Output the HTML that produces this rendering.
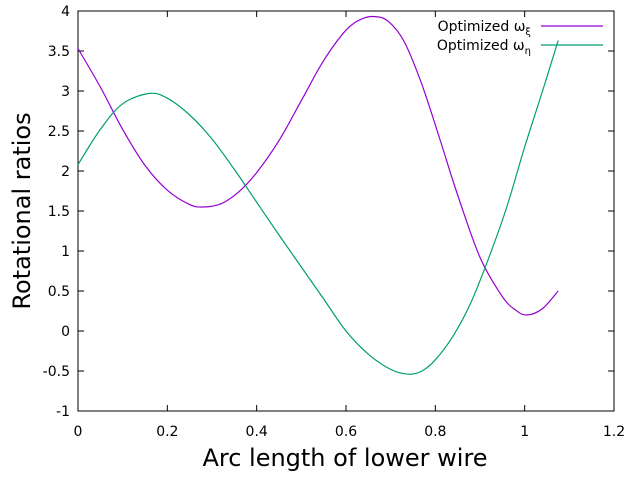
<!DOCTYPE html>
<html><head><meta charset="utf-8"><style>
body{margin:0;background:#fff}
svg text{font-family:"DejaVu Sans","Liberation Sans",sans-serif;fill:#000}
</style></head><body>
<svg id="chart" width="636" height="474">
<rect x="78" y="11" width="536" height="400" fill="none" stroke="#000" stroke-width="1"/>
<g id="ticks"></g>
<text x="345" y="466" font-size="24" text-anchor="middle">Arc length of lower wire</text>
<text transform="translate(30,211) rotate(-90)" font-size="24" text-anchor="middle">Rotational ratios</text>
<g id="series"></g>
<g>
<text x="531" y="31" font-size="14" text-anchor="end">Optimized ω<tspan font-size="10" dy="4">ξ</tspan></text>
<line x1="541" y1="26" x2="603" y2="26" stroke="#9400d3" stroke-width="1.2"/>
<text x="531" y="50" font-size="14" text-anchor="end">Optimized ω<tspan font-size="10" dy="4">η</tspan></text>
<line x1="541" y1="45" x2="603" y2="45" stroke="#009e73" stroke-width="1.2"/>
</g>
</svg>
<script>
const xTicks=[0,0.2,0.4,0.6,0.8,1,1.2];
const yTicks=[-1,-0.5,0,0.5,1,1.5,2,2.5,3,3.5,4];
const xiX=[0,0.05,0.1,0.15,0.2,0.25,0.28,0.32,0.36,0.4,0.45,0.5,0.55,0.6,0.635,0.665,0.695,0.73,0.77,0.81,0.85,0.9,0.95,0.98,1.005,1.04,1.075];
const xiY=[3.53,3.05,2.52,2.07,1.76,1.58,1.55,1.59,1.74,1.98,2.38,2.88,3.38,3.76,3.9,3.93,3.87,3.62,3.08,2.4,1.7,0.92,0.43,0.26,0.2,0.28,0.5];
const etaX=[0,0.05,0.1,0.16,0.2,0.25,0.3,0.35,0.4,0.45,0.5,0.55,0.6,0.65,0.7,0.74,0.77,0.8,0.84,0.88,0.92,0.96,1.0,1.04,1.075];
const etaY=[2.08,2.52,2.84,2.97,2.91,2.7,2.4,2.02,1.61,1.2,0.8,0.4,0.0,-0.29,-0.48,-0.54,-0.5,-0.36,-0.06,0.36,0.92,1.55,2.3,3.0,3.63];
const NS='http://www.w3.org/2000/svg';
const sx=v=>78+v/1.2*536, sy=v=>411-(v+1)/5*400;
const tg=document.getElementById('ticks');
function mk(t,a){const e=document.createElementNS(NS,t);for(const k in a)e.setAttribute(k,a[k]);return e;}
xTicks.forEach(v=>{const x=sx(v);
 let l=mk('line',{x1:x,y1:411,x2:x,y2:405,stroke:'#000'});
 
 tg.appendChild(l);
 let l2=mk('line',{x1:x,y1:11,x2:x,y2:17,stroke:'#000'});
 
 tg.appendChild(l2);
 let t=mk('text',{x:x,y:436,'font-size':14,'text-anchor':'middle'});t.textContent=v;
 
 tg.appendChild(t);});
yTicks.forEach(v=>{const y=sy(v);
 let l=mk('line',{x1:78,y1:y,x2:84,y2:y,stroke:'#000'});
 
 tg.appendChild(l);
 let l2=mk('line',{x1:614,y1:y,x2:608,y2:y,stroke:'#000'});
 
 tg.appendChild(l2);
 let t=mk('text',{x:70,y:y+5,'font-size':14,'text-anchor':'end'});t.textContent=v;
 
 tg.appendChild(t);});
function path(X,Y){const p=X.map((x,i)=>[sx(x),sy(Y[i])]);let d='M'+p[0][0]+','+p[0][1];
 for(let i=0;i<p.length-1;i++){const p0=p[i-1]||p[i],p1=p[i],p2=p[i+1],p3=p[i+2]||p2;
 d+=' C'+(p1[0]+(p2[0]-p0[0])/6)+','+(p1[1]+(p2[1]-p0[1])/6)+' '+(p2[0]-(p3[0]-p1[0])/6)+','+(p2[1]-(p3[1]-p1[1])/6)+' '+p2[0]+','+p2[1];}
 return d;}
const sg=document.getElementById('series');
let a=mk('path',{d:path(xiX,xiY),fill:'none',stroke:'#9400d3','stroke-width':1.2});

sg.appendChild(a);
let b=mk('path',{d:path(etaX,etaY),fill:'none',stroke:'#009e73','stroke-width':1.2});

sg.appendChild(b);
</script>
</body></html>
